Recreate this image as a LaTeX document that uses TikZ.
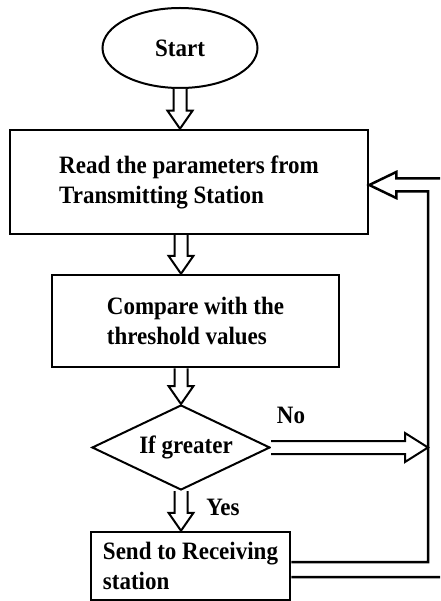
\documentclass[tikz,border=0pt]{standalone}
\usepackage{fontspec}
\setmainfont{Liberation Serif}[FakeStretch=0.92]
\usepackage{tikz}
\usetikzlibrary{shapes.geometric, calc, positioning}
\newcommand{\flowfont}{\fontsize{25}{30}\selectfont\bfseries}
\tikzset{
  terminal/.style={ellipse, draw, line width=2pt, minimum width=155pt, minimum height=80pt, font=\flowfont},
  process/.style={rectangle, draw, line width=2.5pt, align=left, font=\flowfont},
  decision/.style={diamond, draw, line width=2pt, aspect=2.1, minimum width=178pt, minimum height=85pt, inner sep=1pt, font=\flowfont},
  blockarrow/.style={draw, line width=2pt, line join=miter, fill=white},
  pipe/.style={draw, line width=2.5pt, line join=miter},
  branch/.style={font=\flowfont},
}
% hollow block arrows: #1 = start point, #2 = tip
\newcommand{\blockdown}[2]{%
  \draw[blockarrow] ($(#1)+(-6.5,0)$) -- ($(#2)+(-6.5,18)$) -- ($(#2)+(-12.5,18)$) -- (#2)
    -- ($(#2)+(12.5,18)$) -- ($(#2)+(6.5,18)$) -- ($(#1)+(6.5,0)$);}
\newcommand{\blockright}[2]{%
  \draw[blockarrow] ($(#1)+(0,6.5)$) -- ($(#2)+(-23,6.5)$) -- ($(#2)+(-23,14.5)$) -- (#2)
    -- ($(#2)+(-23,-14.5)$) -- ($(#2)+(-23,-6.5)$) -- ($(#1)+(0,-6.5)$);}

\begin{document}
\begin{tikzpicture}[x=1pt, y=1pt]
  \useasboundingbox (0,0) rectangle (440,-601);
  \clip (0,0) rectangle (440,-601);

  % Steps
  \node[terminal] (start) at (180,-48) {Start};
  \node[process, minimum width=358pt, minimum height=104pt] (read) at (189,-182)
    {Read the parameters from\\Transmitting Station};
  \node[process, minimum width=287pt, minimum height=92pt] (compare) at (195.5,-321)
    {Compare with the\\threshold values};
  \node[decision] (cond) at (181,-447.5) {\hspace{10pt}If greater};
  \node[process, minimum width=199pt, minimum height=68pt] (send) at (190.5,-566)
    {Send to Receiving\\station};

  % Return line
  \coordinate (inner) at (428,-447.5);
  \coordinate (outer) at (444,-447.5);
  \coordinate (back) at ($(read.east)+(0,-3)$);

  % Flow
  \blockdown{start.south}{start.south |- read.north}
  \blockdown{read.south -| cond.north}{compare.north -| cond.north}
  \blockdown{compare.south -| cond.north}{cond.north}
  \blockdown{cond.south}{send.north -| cond.south}
  \blockright{cond.east}{cond.east -| inner}

  % Feedback to the first step
  \draw[pipe] ($(send.east)+(0,4)$) -- ($(send.east -| inner)+(0,4)$)
    -- ($(back -| inner)+(0,-6.5)$) -- ($(back)+(27,-6.5)$)
    -- ($(back)+(27,-13)$) -- (back) -- ($(back)+(27,13)$)
    -- ($(back)+(27,6.5)$) -- ($(back -| outer)+(0,6.5)$)
    -- ($(send.east -| outer)+(0,-11)$) -- ($(send.east)+(0,-11)$);

  % Labels
  \node[branch] (no) at (291,-415) {No};
  \node[branch] (yes) at (223,-507) {Yes};
\end{tikzpicture}
\end{document}
